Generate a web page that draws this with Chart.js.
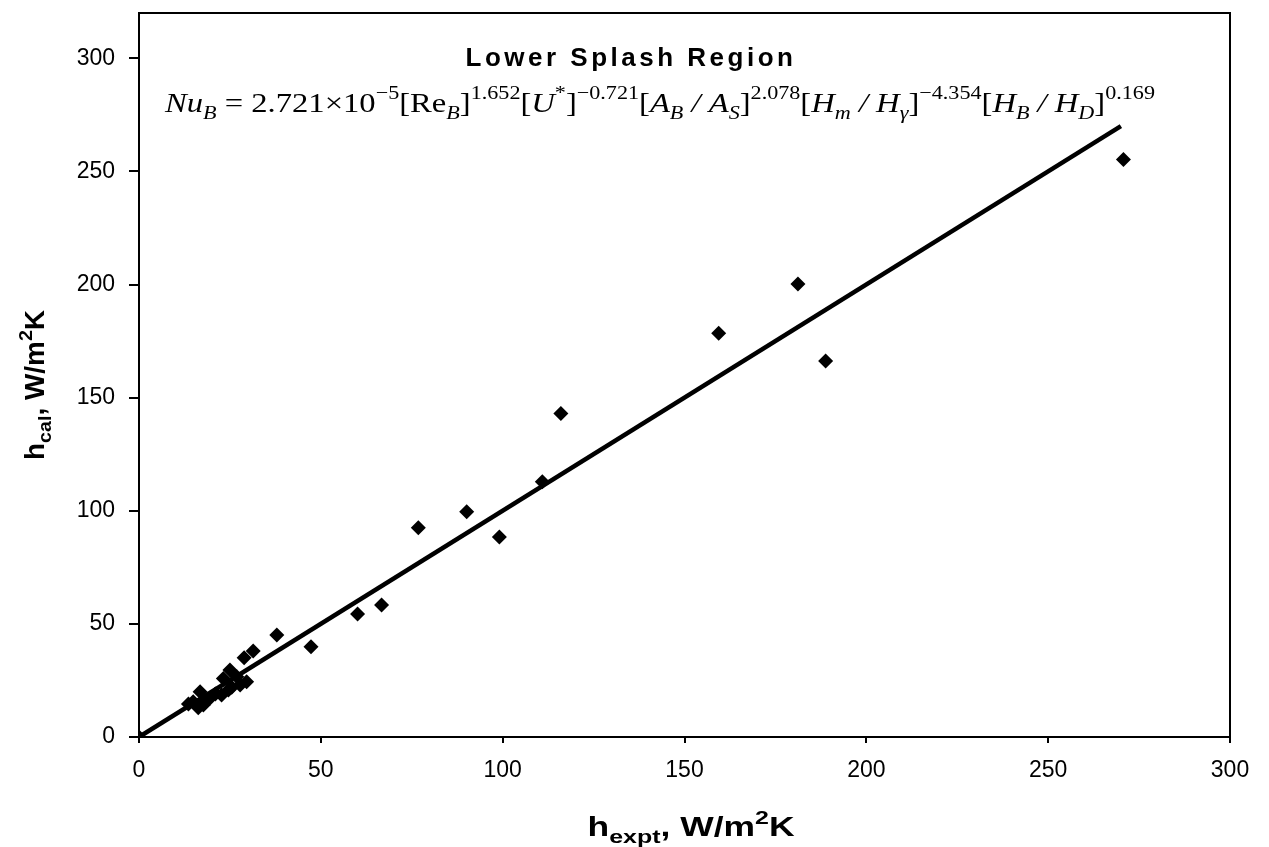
<!DOCTYPE html>
<html><head><meta charset="utf-8">
<script src="https://cdn.jsdelivr.net/npm/chart.js@4.4.1/dist/chart.umd.min.js"></script>
<style>html,body{margin:0;padding:0;background:#fff;overflow:hidden}</style>
</head><body>
<canvas id="c" width="1269" height="847"></canvas>
<script>
// ---- data ----
const hExpt = [0, 270.7, 181.2, 188.8, 159.4, 116.0, 110.9, 99.1, 90.1, 76.8, 66.7, 60.1, 47.3, 37.9, 31.4, 28.9,
  25.0, 26.9, 23.2, 29.6, 27.8, 24.6, 22.7, 16.8, 19.5, 17.7, 14.9, 13.6, 16.3, 21.0, 25.5];
const hCal = [0, 255.3, 200.2, 166.2, 178.4, 143.0, 112.8, 88.4, 99.6, 92.5, 58.3, 54.4, 39.9, 45.1, 38.0, 35.0,
  29.6, 26.6, 25.9, 24.4, 23.0, 20.8, 18.6, 20.0, 17.1, 14.1, 15.6, 14.6, 12.9, 19.0, 22.0];
const fitX = [0, 270];
const fitY = [0, 270];
const xTickValues = [0, 50, 100, 150, 200, 250, 300];
const yTickValues = [0, 50, 100, 150, 200, 250, 300];
const chartTitle = 'Lower Splash Region';
const formulaParts = [
 ['Nu','i','b'], ['B','i','sub'], [' = 2.721\u00D710','n','b'], ['\u22125','n','sup'],
 ['[Re','n','b'], ['B','i','sub'], [']','n','b'], ['1.652','n','sup'],
 ['[','n','b'], ['U','i','b'], ['*','n','sup'], [']','n','b'], ['\u22120.721','n','sup'],
 ['[','n','b'], ['A','i','b'], ['B','i','sub'], [' / ','i','b'], ['A','i','b'], ['S','i','sub'], [']','n','b'], ['2.078','n','sup'],
 ['[','n','b'], ['H','i','b'], ['m','i','sub'], [' / ','i','b'], ['H','i','b'], ['\u03B3','i','sub'], [']','n','b'], ['\u22124.354','n','sup'],
 ['[','n','b'], ['H','i','b'], ['B','i','sub'], [' / ','i','b'], ['H','i','b'], ['D','i','sub'], [']','n','b'], ['0.169','n','sup']
];
const xTitleParts = [['h','n','b'], ['expt','n','sub'], [', W/m','n','b'], ['2','n','sup'], ['K','n','b']];
const yTitleParts = [['h','n','b'], ['cal','n','sub'], [', W/m','n','b'], ['2','n','sup'], ['K','n','b']];

function richFont(seg, size, family, weight, ratio) {
  const s = seg[2] === 'b' ? size : Math.round(size * ratio);
  return (seg[1] === 'i' ? 'italic ' : '') + weight + ' ' + s + 'px ' + family;
}
// draws mixed sub/superscript text centred on cx, stretched horizontally to targetW
function drawRich(ctx, parts, cx, baseY, size, family, weight, ratio, targetW) {
  let total = 0;
  parts.forEach(p => { ctx.font = richFont(p, size, family, weight, ratio); total += ctx.measureText(p[0]).width; });
  const k = targetW ? targetW / total : 1;
  ctx.save();
  ctx.translate(cx - total * k / 2, baseY);
  ctx.scale(k, 1);
  let x = 0;
  ctx.textBaseline = 'alphabetic';
  ctx.textAlign = 'left';
  parts.forEach(p => {
    ctx.font = richFont(p, size, family, weight, ratio);
    let dy = 0;
    if (p[2] === 'sub') dy = size * 0.25;
    if (p[2] === 'sup') dy = -size * 0.45;
    ctx.fillText(p[0], x, dy);
    x += ctx.measureText(p[0]).width;
  });
  ctx.restore();
}

const decorPlugin = {
  id: 'decor',
  afterDraw(chart) {
    const ctx = chart.ctx, a = chart.chartArea;
    ctx.save();
    ctx.strokeStyle = '#000'; ctx.lineWidth = 2;
    ctx.beginPath();
    ctx.moveTo(a.left, a.top); ctx.lineTo(a.right, a.top); ctx.lineTo(a.right, a.bottom);
    ctx.stroke();
    ctx.fillStyle = '#000';
    // title
    ctx.font = 'bold 26px "Liberation Sans", Arial, sans-serif';
    ctx.textAlign = 'center'; ctx.textBaseline = 'alphabetic';
    if ('letterSpacing' in ctx) ctx.letterSpacing = '3.5px';
    ctx.fillText(chartTitle, 631, 66);
    if ('letterSpacing' in ctx) ctx.letterSpacing = '0px';
    // formula
    drawRich(ctx, formulaParts, 660, 112, 28, '"Liberation Serif", "Times New Roman", serif', 'normal', 0.68, 990);
    // x title
    drawRich(ctx, xTitleParts, 691, 836, 27, '"Liberation Sans", Arial, sans-serif', 'bold', 0.7, 207);
    // y title
    ctx.save();
    ctx.translate(44, 385);
    ctx.rotate(-Math.PI / 2);
    drawRich(ctx, yTitleParts, 0, 0, 27, '"Liberation Sans", Arial, sans-serif', 'bold', 0.7, 150);
    ctx.restore();
    ctx.restore();
  }
};

const tickFont = { family: '"Liberation Sans", Arial, sans-serif', size: 23 };

new Chart(document.getElementById('c'), {
  type: 'scatter',
  data: {
    datasets: [
      {
        label: 'data',
        data: hExpt.map((v, i) => ({ x: v, y: hCal[i] })),
        pointStyle: 'rectRot',
        pointRadius: 7.5,
        backgroundColor: '#000',
        borderColor: '#000',
        borderWidth: 0
      },
      {
        label: 'fit',
        data: fitX.map((v, i) => ({ x: v, y: fitY[i] })),
        showLine: true,
        pointRadius: 0,
        borderColor: '#000',
        borderWidth: 4.5,
        fill: false
      }
    ]
  },
  options: {
    responsive: false,
    animation: false,
    devicePixelRatio: 1,
    layout: { padding: { top: 13, right: 39, left: 0, bottom: 0 } },
    plugins: { legend: { display: false }, tooltip: { enabled: false }, title: { display: false } },
    scales: {
      x: {
        type: 'linear', min: 0, max: 300,
        afterBuildTicks: s => { s.ticks = xTickValues.map(v => ({ value: v })); },
        afterFit: s => { s.height = 110; s.paddingLeft = 0; },
        grid: { drawOnChartArea: false, drawTicks: true, tickLength: 6, color: '#000', lineWidth: 2 },
        border: { display: true, color: '#000', width: 2 },
        ticks: { color: '#000', font: tickFont, padding: 14, maxRotation: 0 }
      },
      y: {
        type: 'linear', min: 0, max: 320,
        afterBuildTicks: s => { s.ticks = yTickValues.map(v => ({ value: v })); },
        afterFit: s => { s.width = 139; s.paddingTop = 0; s.paddingBottom = 0; },
        grid: { drawOnChartArea: false, drawTicks: true, tickLength: 10, color: '#000', lineWidth: 2 },
        border: { display: true, color: '#000', width: 2 },
        ticks: { color: '#000', font: tickFont, padding: 14 }
      }
    }
  },
  plugins: [decorPlugin]
});
</script>
</body></html>
